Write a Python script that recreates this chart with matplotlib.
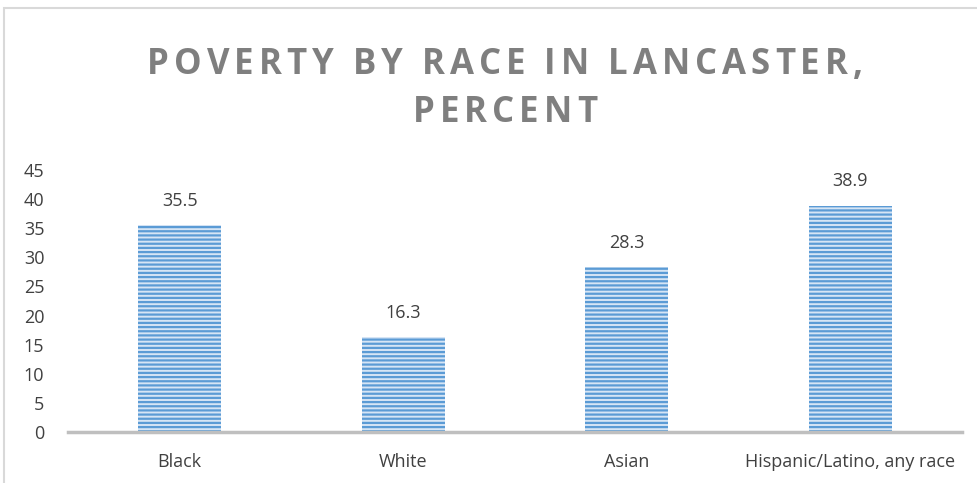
import matplotlib
matplotlib.use("Agg")
import matplotlib.pyplot as plt
from matplotlib.patches import Rectangle
from matplotlib.font_manager import FontProperties

# poverty rate by race, Lancaster
categories = ["Black", "White", "Asian", "Hispanic/Latino, any race"]
poverty_pct = [35.5, 16.3, 28.3, 38.9]
yticks = [0, 5, 10, 15, 20, 25, 30, 35, 40, 45]
title_lines = ["POVERTY BY RACE IN LANCASTER,", "PERCENT"]

plt.rcParams['font.family'] = ['Open Sans', 'DejaVu Sans']
plt.rcParams['hatch.linewidth'] = 1.6

W, H = 977, 483
fig = plt.figure(figsize=(W / 100, H / 100), dpi=100)

# chart frame
fig.patches.append(Rectangle((4 / W, -0.1), 1.1, 1 - 8 / H + 0.1,
                             transform=fig.transFigure, fill=False,
                             edgecolor='#d9d9d9', linewidth=1.5))

ax = fig.add_axes([68 / W, 1 - 432 / H, (962 - 68) / W, (432 - 170) / H])

x = range(len(categories))
ax.bar(x, poverty_pct, width=0.37, color='#d6e5f5', hatch='----',
       edgecolor='#5b9bd5', linewidth=0, zorder=2)

for xi, v in zip(x, poverty_pct):
    ax.annotate(f"{v}", (xi, v), xytext=(0, 11), textcoords='offset points',
                ha='center', va='bottom', fontsize=13, color='#404040')

ax.set_xlim(-0.5, len(categories) - 0.5)
ax.set_ylim(0, 45)
ax.set_yticks(yticks)
ax.set_xticks(list(x))
ax.set_xticklabels(categories)
ax.tick_params(axis='both', length=0, labelsize=13, colors='#404040')
ax.tick_params(axis='x', pad=15)
ax.tick_params(axis='y', pad=17)
for s in ['top', 'right', 'left']:
    ax.spines[s].set_visible(False)
ax.spines['bottom'].set_color('#bfbfbf')
ax.spines['bottom'].set_linewidth(2.5)

# letter-spaced title, one glyph at a time
renderer = fig.canvas.get_renderer()
tprop = FontProperties(family=['Open Sans', 'DejaVu Sans'], weight='bold', size=25)
tracking = 5.0
title_cx = 505
for line, yc in zip(title_lines, [60.5, 108.5]):
    widths = [renderer.get_text_width_height_descent(ch, tprop, ismath=False)[0]
              for ch in line]
    total = sum(widths) + tracking * (len(line) - 1)
    xpos = title_cx - total / 2
    for ch, w in zip(line, widths):
        fig.text(xpos / W, 1 - yc / H, ch, ha='left', va='center_baseline',
                 fontproperties=tprop, color='#7f7f7f')
        xpos += w + tracking

fig.savefig("out.png", dpi=100)
